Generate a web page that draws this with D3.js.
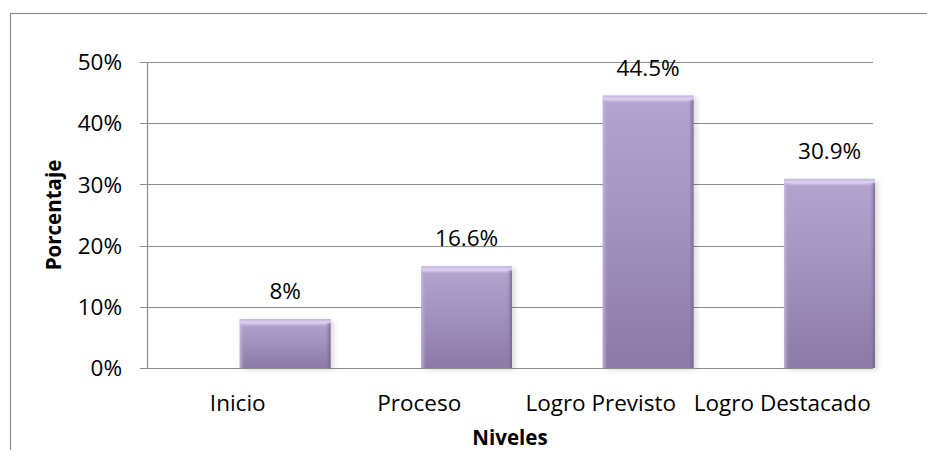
<!DOCTYPE html>
<html>
<head>
<meta charset="utf-8">
<script src="https://cdn.jsdelivr.net/npm/d3@7"></script>
<style>
  html, body { margin: 0; padding: 0; background: #fff; }
  svg { display: block; }
  text { font-family: "Open Sans", "Noto Sans", sans-serif; fill: #000; }
</style>
</head>
<body>
<svg id="chart" width="927" height="450"></svg>
<script>
const categories = ["Inicio", "Proceso", "Logro Previsto", "Logro Destacado"];
const values = [8, 16.6, 44.5, 30.9];
const valueLabels = ["8%", "16.6%", "44.5%", "30.9%"];
const yTicks = [0, 10, 20, 30, 40, 50];
const yTickLabels = ["0%", "10%", "20%", "30%", "40%", "50%"];
const xTitle = "Niveles";
const yTitle = "Porcentaje";

const svg = d3.select("#chart");
const W = 927, H = 450;
const plot = { left: 147, right: 873, top: 62, bottom: 368 };
const labelSize = 22.5;

// frame
svg.append("rect")
  .attr("x", 10.5).attr("y", 13.5)
  .attr("width", W + 20).attr("height", H + 20)
  .attr("fill", "#fff").attr("stroke", "#8c8c8c").attr("stroke-width", 1.2);

const defs = svg.append("defs");
const grad = defs.append("linearGradient").attr("id", "barGrad")
  .attr("x1", 0).attr("y1", 0).attr("x2", 0).attr("y2", 1);
grad.append("stop").attr("offset", "0%").attr("stop-color", "#b4a4d0");
grad.append("stop").attr("offset", "45%").attr("stop-color", "#a393bf");
grad.append("stop").attr("offset", "100%").attr("stop-color", "#8c7aa6");

const topBevel = defs.append("linearGradient").attr("id", "topBevel")
  .attr("x1", 0).attr("y1", 0).attr("x2", 0).attr("y2", 1);
topBevel.append("stop").attr("offset", "0%").attr("stop-color", "#c4b6e0");
topBevel.append("stop").attr("offset", "50%").attr("stop-color", "#ddd2f0");
topBevel.append("stop").attr("offset", "100%").attr("stop-color", "#b4a4d0");

const rightBevel = defs.append("linearGradient").attr("id", "rightBevel")
  .attr("x1", 0).attr("y1", 0).attr("x2", 1).attr("y2", 0);
rightBevel.append("stop").attr("offset", "0%").attr("stop-color", "#8a78a4").attr("stop-opacity", 0);
rightBevel.append("stop").attr("offset", "100%").attr("stop-color", "#6f5f88").attr("stop-opacity", 0.8);

const leftBevel = defs.append("linearGradient").attr("id", "leftBevel")
  .attr("x1", 0).attr("y1", 0).attr("x2", 1).attr("y2", 0);
leftBevel.append("stop").attr("offset", "0%").attr("stop-color", "#c8bce0").attr("stop-opacity", 0.8);
leftBevel.append("stop").attr("offset", "100%").attr("stop-color", "#b0a0cc").attr("stop-opacity", 0);

const shadow = defs.append("filter").attr("id", "shadow")
  .attr("x", "-20%").attr("y", "-20%").attr("width", "140%").attr("height", "140%");
shadow.append("feDropShadow").attr("dx", 3).attr("dy", 2).attr("stdDeviation", 2.5)
  .attr("flood-color", "#000").attr("flood-opacity", 0.14);

const x = d3.scaleBand().domain(categories).range([plot.left, plot.right]).padding(0);
const y = d3.scaleLinear().domain([0, 50]).range([plot.bottom, plot.top]);

// gridlines
svg.append("g").selectAll("line").data(yTicks).join("line")
  .attr("x1", plot.left - 7).attr("x2", plot.right)
  .attr("y1", d => Math.round(y(d)) + 0.5).attr("y2", d => Math.round(y(d)) + 0.5)
  .attr("stroke", "#8c8c8c").attr("stroke-width", 1.2);

// y axis line
svg.append("line")
  .attr("x1", plot.left + 0.5).attr("x2", plot.left + 0.5)
  .attr("y1", plot.top).attr("y2", plot.bottom)
  .attr("stroke", "#8c8c8c").attr("stroke-width", 1.2);

// y tick labels
svg.append("g").selectAll("text").data(yTicks).join("text")
  .attr("x", 122).attr("y", d => y(d)).attr("dy", "0.36em")
  .attr("text-anchor", "end").attr("font-size", labelSize)
  .text((d, i) => yTickLabels[i]);

// bars
const barW = x.bandwidth() / 2;
const barX = c => x(c) + x.bandwidth() / 2 + 2;
const bars = svg.append("g").selectAll("g").data(categories).join("g")
  .attr("filter", "url(#shadow)");
bars.append("rect")
  .attr("x", c => barX(c)).attr("y", (c, i) => y(values[i]))
  .attr("width", barW).attr("height", (c, i) => y(0) - y(values[i]))
  .attr("fill", "url(#barGrad)");
bars.append("rect")
  .attr("x", c => barX(c)).attr("y", (c, i) => y(values[i]))
  .attr("width", barW).attr("height", 7)
  .attr("fill", "url(#topBevel)");
bars.append("rect")
  .attr("x", c => barX(c) + barW - 5).attr("y", (c, i) => y(values[i]) + 4)
  .attr("width", 5).attr("height", (c, i) => y(0) - y(values[i]) - 4)
  .attr("fill", "url(#rightBevel)");
bars.append("rect")
  .attr("x", c => barX(c)).attr("y", (c, i) => y(values[i]) + 4)
  .attr("width", 5).attr("height", (c, i) => y(0) - y(values[i]) - 4)
  .attr("fill", "url(#leftBevel)");

// bottom axis line over bars
svg.append("line")
  .attr("x1", plot.left - 7).attr("x2", plot.right)
  .attr("y1", Math.round(y(0)) + 0.5).attr("y2", Math.round(y(0)) + 0.5)
  .attr("stroke", "#8c8c8c").attr("stroke-width", 1.2);

// value labels
svg.append("g").selectAll("text").data(categories).join("text")
  .attr("x", c => barX(c) + barW / 2)
  .attr("y", (c, i) => y(values[i]) - 20)
  .attr("text-anchor", "middle").attr("font-size", labelSize)
  .text((c, i) => valueLabels[i]);

// category labels
svg.append("g").selectAll("text").data(categories).join("text")
  .attr("x", c => x(c) + x.bandwidth() / 2)
  .attr("y", 411)
  .attr("text-anchor", "middle").attr("font-size", labelSize)
  .text(c => c);

// axis titles
svg.append("text")
  .attr("x", (plot.left + plot.right) / 2).attr("y", 445)
  .attr("text-anchor", "middle").attr("font-size", 20.5).attr("font-weight", "bold")
  .text(xTitle);

svg.append("text")
  .attr("transform", `translate(61,${(plot.top + plot.bottom) / 2}) rotate(-90)`)
  .attr("text-anchor", "middle").attr("font-size", 20.5).attr("font-weight", "bold")
  .text(yTitle);
</script>
</body>
</html>
